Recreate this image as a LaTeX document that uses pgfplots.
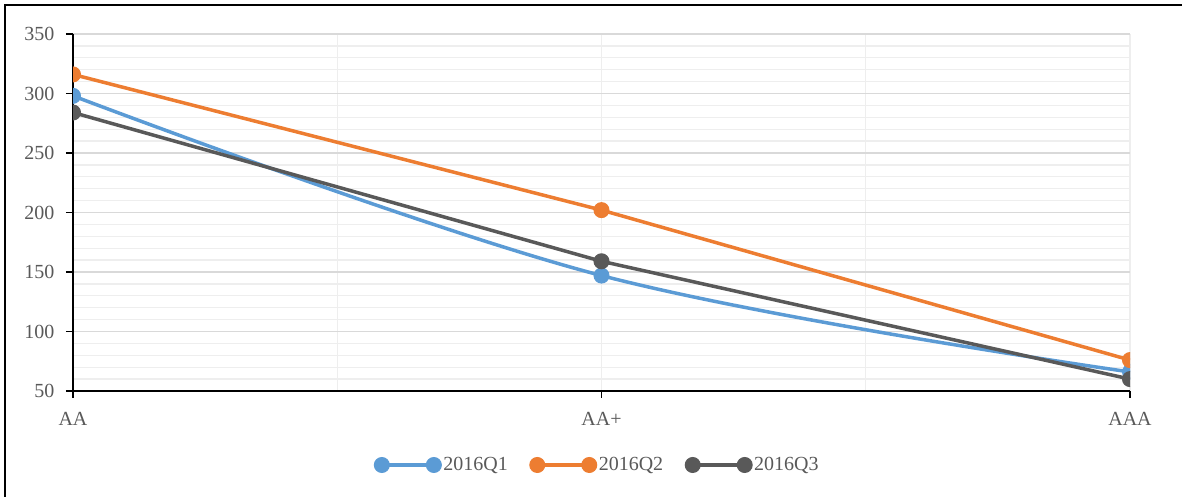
\documentclass[border=0pt]{standalone}
\usepackage{fontspec}
\setmainfont{Liberation Serif}
\usepackage{pgfplots}
\pgfplotsset{compat=1.18}
\definecolor{qone}{HTML}{5B9BD5}
\definecolor{qtwo}{HTML}{ED7D31}
\definecolor{qthree}{HTML}{595959}
\definecolor{gridmajor}{HTML}{D9D9D9}
\definecolor{gridminor}{HTML}{EEEEEE}
\definecolor{labelgray}{HTML}{595959}
\begin{document}
\begin{tikzpicture}[x=1bp,y=1bp]
\useasboundingbox (0,0) rectangle (1182,497);
\draw[line width=1.5bp,black] (5,-5) -- (5,492) -- (1190,492);
\begin{axis}[
  at={(73bp,106bp)}, anchor=south west,
  width=1057bp, height=357bp, scale only axis,
  xmin=0, xmax=2, ymin=50, ymax=350,
  xtick={0,1,2}, xticklabels={AA,AA+,AAA},
  ytick={50,100,...,350},
  minor y tick num=4,
  minor xtick={0.5,1,1.5,2},
  ymajorgrids, yminorgrids, xminorgrids,
  major grid style={color=gridmajor, line width=1.3bp},
  minor grid style={color=gridminor, line width=1.3bp},
  axis x line*=bottom, axis y line*=left,
  axis line style={black, line width=1.5bp, -},
  tick align=outside,
  major tick length=7bp, minor tick length=0pt,
  tick style={black, line width=1.5bp},
  ticklabel style={font=\fontsize{20bp}{24bp}\selectfont, text=labelgray},
  yticklabel style={xshift=-8bp},
  xticklabel style={yshift=-11bp},
  /pgf/number format/assume math mode=true,
  clip marker paths=true,
  legend columns=-1,
  legend style={draw=none, fill=none, at={(axis description cs:0.5,0)}, anchor=center,
    yshift=-74bp, xshift=-4bp, font=\fontsize{20bp}{24bp}\selectfont, text=labelgray,
    /tikz/every even column/.append style={column sep=20bp}},
  legend image code/.code={\draw[#1] plot coordinates {(0bp,0bp) (52bp,0bp)};},
]
\addplot[qone, line width=3.5bp, smooth, tension=0.6, mark=*, mark size=7.5bp, mark options={solid, line width=1bp, fill=qone, draw=qone}]
  coordinates {(0,298) (1,147) (2,66)};
\addlegendentry{2016Q1}
\addplot[qtwo, line width=3.5bp, mark=*, mark size=7.5bp, mark options={solid, line width=1bp, fill=qtwo, draw=qtwo}]
  coordinates {(0,316) (1,202) (2,76)};
\addlegendentry{2016Q2}
\addplot[qthree, line width=3.5bp, mark=*, mark size=7.5bp, mark options={solid, line width=1bp, fill=qthree, draw=qthree}]
  coordinates {(0,284) (1,159) (2,60)};
\addlegendentry{2016Q3}
\end{axis}
\end{tikzpicture}
\end{document}
